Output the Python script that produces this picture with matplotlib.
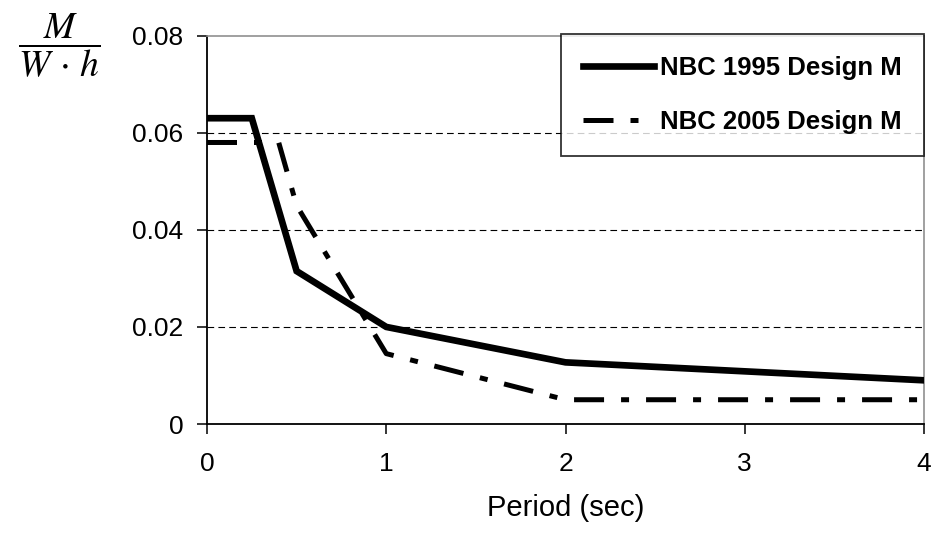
import matplotlib
matplotlib.use("Agg")
import matplotlib.pyplot as plt

plt.rcParams['font.family'] = ['Liberation Sans', 'DejaVu Sans']
plt.rcParams['mathtext.fontset'] = 'stix'

period_1995 = [0, 0.25, 0.5, 1, 2, 4]
m_1995 = [0.063, 0.063, 0.0315, 0.020, 0.0127, 0.009]
period_2005 = [0, 0.4, 0.5, 1, 2, 4]
m_2005 = [0.058, 0.058, 0.045, 0.0145, 0.005, 0.005]
label_1995 = "NBC 1995 Design M"
label_2005 = "NBC 2005 Design M"
x_ticks = [0, 1, 2, 3, 4]
y_ticks = [0, 0.02, 0.04, 0.06, 0.08]
y_tick_labels = ["0", "0.02", "0.04", "0.06", "0.08"]

fig = plt.figure(figsize=(9.39, 5.39), dpi=100)
ax = fig.add_axes([207/939, 1-424/539, (924-207)/939, (424-35.7)/539])

ax.plot(period_1995, m_1995, color='black', lw=4.8, solid_joinstyle='miter',
        label=label_1995, zorder=3)
ax.plot(period_2005, m_2005, color='black', lw=3.6, dashes=(6.0, 3.4, 1.6, 3.4),
        dash_capstyle='butt', label=label_2005, zorder=3)

ax.set_xlim(0, 4)
ax.set_ylim(0, 0.08)
ax.set_xticks(x_ticks)
ax.set_xticklabels([str(t) for t in x_ticks])
ax.set_yticks(y_ticks)
ax.set_yticklabels(y_tick_labels)

for y in y_ticks[1:-1]:
    ax.axhline(y, color='black', lw=0.8, linestyle=(0, (6, 3.8)), zorder=1)

for s in ['left', 'bottom']:
    ax.spines[s].set_color('black')
    ax.spines[s].set_linewidth(1.3)
for s in ['top', 'right']:
    ax.spines[s].set_color('#909090')
    ax.spines[s].set_linewidth(1.2)

ax.tick_params(axis='both', direction='out', length=7, width=1.1, color='black',
               labelsize=19)
ax.tick_params(axis='x', pad=13)
ax.tick_params(axis='y', pad=10)

ax.set_xlabel("Period (sec)", fontsize=21, labelpad=13)

fig.text(59/939, 1-46/539, r'$\dfrac{M}{W\,\cdot\,h}$', fontsize=27,
         ha='center', va='center')

leg = ax.legend(loc='upper right', bbox_to_anchor=(1.0, 1.005),
                prop={'weight': 'bold', 'size': 18.5},
                frameon=True, fancybox=False, edgecolor='black',
                handlelength=2.75, handletextpad=0.25, labelspacing=1.2,
                borderpad=0.85, borderaxespad=0.0)
leg.get_frame().set_linewidth(1.3)

fig.savefig("out.png", dpi=100)
